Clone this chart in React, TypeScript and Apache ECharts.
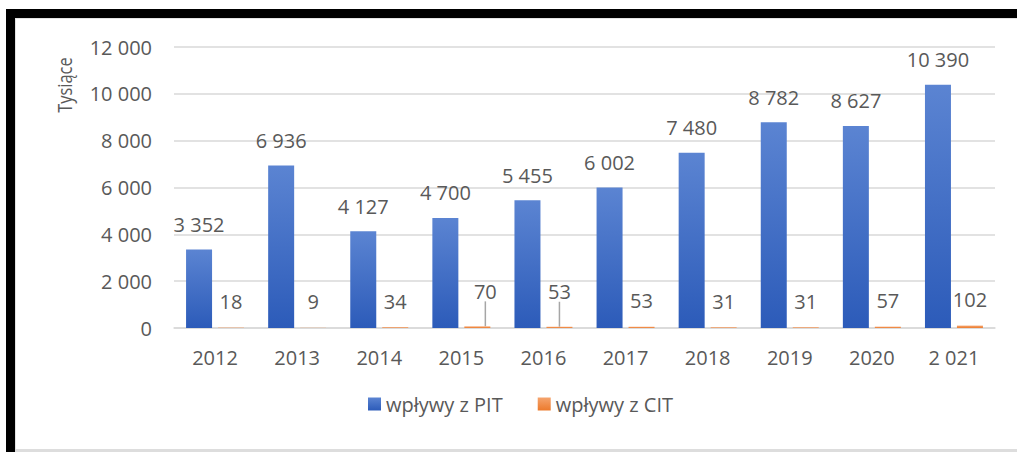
import React, { useEffect, useRef } from "react";
import * as echarts from "echarts";

const years = ["2012", "2013", "2014", "2015", "2016", "2017", "2018", "2019", "2020", "2 021"];
const pitValues = [3352, 6936, 4127, 4700, 5455, 6002, 7480, 8782, 8627, 10390];
const citValues = [18, 9, 34, 70, 53, 53, 31, 31, 57, 102];
const seriesNames = ["wpływy z PIT", "wpływy z CIT"];
const yAxisTitle = "Tysiące";
const yMin = 0;
const yMax = 12000;
const yStep = 2000;
// labels that were moved in the original, with leader lines
const movedCitLabels: Record<number, { dx: number; dy: number }> = {
  3: { dx: 8, dy: -9 },
  4: { dx: 0, dy: -9 },
};

const fmt = (v: number) => {
  const s = String(Math.round(v));
  return s.replace(/\B(?=(\d{3})+(?!\d))/g, " ");
};

const FONT = "'Open Sans', 'Noto Sans', sans-serif";
const TXT = "#595959";

export default function App() {
  const ref = useRef<HTMLDivElement>(null);
  useEffect(() => {
    if (!ref.current) return;
    document.body.style.overflow = "hidden";
    document.documentElement.style.overflow = "hidden";
    const chart = echarts.init(ref.current, null, { renderer: "svg" });
    const blue = new echarts.graphic.LinearGradient(0, 0, 0, 1, [
      { offset: 0, color: "#5B84D2" },
      { offset: 1, color: "#2C5BB9" },
    ]);
    const orange = new echarts.graphic.LinearGradient(0, 0, 0, 1, [
      { offset: 0, color: "#F5A46E" },
      { offset: 1, color: "#EC7A2C" },
    ]);
    chart.setOption({
      animation: false,
      backgroundColor: "#ffffff",
      textStyle: { fontFamily: FONT },
      grid: { left: 174, right: 22, top: 47, bottom: 124, containLabel: false },
      legend: {
        left: 363,
        top: 389,
        itemWidth: 13,
        itemHeight: 13,
        itemGap: 35,
        icon: "rect",
        textStyle: { fontFamily: FONT, fontSize: 20, color: TXT },
        data: seriesNames,
      },
      xAxis: {
        type: "category",
        data: years,
        axisLine: { show: true, lineStyle: { color: "#D9D9D9", width: 1.5 } },
        axisTick: { show: false },
        axisLabel: { color: TXT, fontSize: 20, fontFamily: FONT, margin: 19 },
      },
      yAxis: {
        type: "value",
        min: yMin,
        max: yMax,
        interval: yStep,
        axisLine: { show: false },
        axisTick: { show: false },
        splitLine: { lineStyle: { color: "#D9D9D9", width: 1.5 } },
        axisLabel: { color: TXT, fontSize: 20, fontFamily: FONT, margin: 22, formatter: (v: number) => fmt(v) },
      },
      series: [
        {
          name: seriesNames[0],
          type: "bar",
          data: pitValues,
          barWidth: 26,
          barGap: "23%",
          itemStyle: { color: blue },
          label: {
            show: true,
            position: "top",
            distance: 15,
            color: TXT,
            fontSize: 20,
            fontFamily: FONT,
            formatter: (p: any) => fmt(p.value),
          },
        },
        {
          name: seriesNames[1],
          type: "bar",
          data: citValues.map((v, i) =>
            movedCitLabels[i]
              ? { value: v, labelLine: { show: true, lineStyle: { color: "#A6A6A6", width: 1.5 } } }
              : { value: v }
          ),
          barWidth: 26,
          itemStyle: { color: orange },
          labelLine: { show: false },
          label: {
            show: true,
            position: "top",
            distance: 16,
            color: TXT,
            fontSize: 20,
            fontFamily: FONT,
            formatter: (p: any) => fmt(p.value),
          },
          labelLayout: (params: any) => {
            const m = movedCitLabels[params.dataIndex];
            return m ? { dx: m.dx, dy: m.dy } : {};
          },
        },
      ],
      graphic: [
        { type: "rect", shape: { x: 6, y: 9, width: 1011, height: 9 }, style: { fill: "#000" }, z: 100 },
        { type: "rect", shape: { x: 6, y: 9, width: 9, height: 443 }, style: { fill: "#000" }, z: 100 },
        { type: "rect", shape: { x: 15, y: 18, width: 1, height: 434 }, style: { fill: "#E3E3E3" }, z: 100 },
        { type: "rect", shape: { x: 15, y: 18, width: 1002, height: 1 }, style: { fill: "#E3E3E3" }, z: 100 },
        { type: "rect", shape: { x: 15, y: 449, width: 1002, height: 3 }, style: { fill: "#DDDDDD" }, z: 100 },
        {
          type: "text",
          x: 64,
          y: 85,
          rotation: Math.PI / 2,
          scaleX: 0.82,
          style: {
            text: yAxisTitle,
            fill: TXT,
            fontSize: 20,
            fontFamily: FONT,
            textAlign: "center",
            textVerticalAlign: "middle",
          },
        },
      ],
    });
    return () => chart.dispose();
  }, []);
  return (
    <div
      ref={ref}
      style={{ position: "fixed", left: 0, top: 0, width: 1017, height: 452, overflow: "hidden" }}
    />
  );
}
